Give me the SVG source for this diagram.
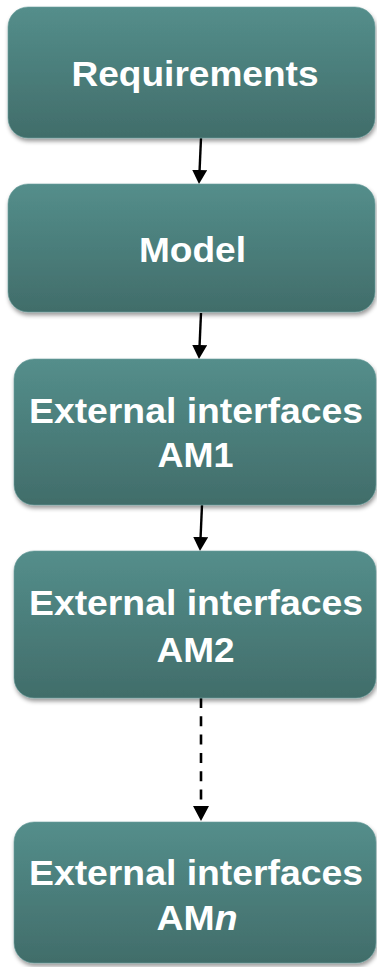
<svg xmlns="http://www.w3.org/2000/svg" width="377" height="967" viewBox="0 0 377 967">
  <style>
    .box { fill: url(#boxFill); stroke: #6a9f9c; stroke-width: 1; stroke-opacity: 0.6; filter: url(#shade); }
    .label { font-family: "Liberation Sans", Arial, sans-serif; font-weight: bold; font-size: 35px; fill: #ffffff; text-anchor: middle; }
    .flow { stroke: #000000; stroke-width: 2.4; fill: none; }
    .dashed { stroke-dasharray: 10 8.3; stroke-width: 2.6; }
  </style>
  <defs>
    <linearGradient id="boxFill" x1="0" y1="0" x2="0" y2="1">
      <stop offset="0" stop-color="#548e8b"/>
      <stop offset="1" stop-color="#416d6a"/>
    </linearGradient>
    <filter id="shade" x="-5%" y="-10%" width="115%" height="130%">
      <feDropShadow dx="1" dy="3" stdDeviation="2" flood-color="#000000" flood-opacity="0.4"/>
    </filter>
    <marker id="head" markerUnits="userSpaceOnUse" markerWidth="16" markerHeight="16" refX="0" refY="7.5" orient="auto">
      <path d="M0,0 L14,7.5 L0,15 Z" fill="#000000"/>
    </marker>
    <marker id="headWide" markerUnits="userSpaceOnUse" markerWidth="18" markerHeight="18" refX="0" refY="8" orient="auto">
      <path d="M0,0 L15,8 L0,16 Z" fill="#000000"/>
    </marker>
  </defs>

  <!-- connectors -->
  <g id="connectors">
    <line class="flow" x1="201" y1="138" x2="199.6" y2="170" marker-end="url(#head)"/>
    <line class="flow" x1="201" y1="313" x2="199.6" y2="345" marker-end="url(#head)"/>
    <line class="flow" x1="202" y1="505" x2="200.6" y2="537" marker-end="url(#head)"/>
    <line class="flow dashed" x1="201" y1="698" x2="201" y2="806" marker-end="url(#headWide)"/>
  </g>

  <g id="requirements">
    <rect class="box" x="8" y="7" width="367" height="131" rx="20" ry="20"/>
    <text class="label" x="195" y="86" textLength="247" lengthAdjust="spacingAndGlyphs">Requirements</text>
  </g>

  <g id="model">
    <rect class="box" x="8" y="184" width="367" height="128" rx="20" ry="20"/>
    <text class="label" x="192.5" y="262" textLength="107" lengthAdjust="spacingAndGlyphs">Model</text>
  </g>

  <g id="am1">
    <rect class="box" x="14" y="359" width="362" height="146" rx="20" ry="20"/>
    <text class="label" x="196" y="423" textLength="334" lengthAdjust="spacingAndGlyphs">External interfaces</text>
    <text class="label" x="195.5" y="467" textLength="76" lengthAdjust="spacingAndGlyphs">AM1</text>
  </g>

  <g id="am2">
    <rect class="box" x="14" y="551" width="362" height="147" rx="20" ry="20"/>
    <text class="label" x="196" y="615" textLength="334" lengthAdjust="spacingAndGlyphs">External interfaces</text>
    <text class="label" x="195.5" y="662" textLength="78" lengthAdjust="spacingAndGlyphs">AM2</text>
  </g>

  <g id="amn">
    <rect class="box" x="14" y="822" width="362" height="141" rx="20" ry="20"/>
    <text class="label" x="196" y="885" textLength="334" lengthAdjust="spacingAndGlyphs">External interfaces</text>
    <text class="label" x="197" y="930" textLength="81" lengthAdjust="spacingAndGlyphs">AM<tspan font-style="italic">n</tspan></text>
  </g>
</svg>
